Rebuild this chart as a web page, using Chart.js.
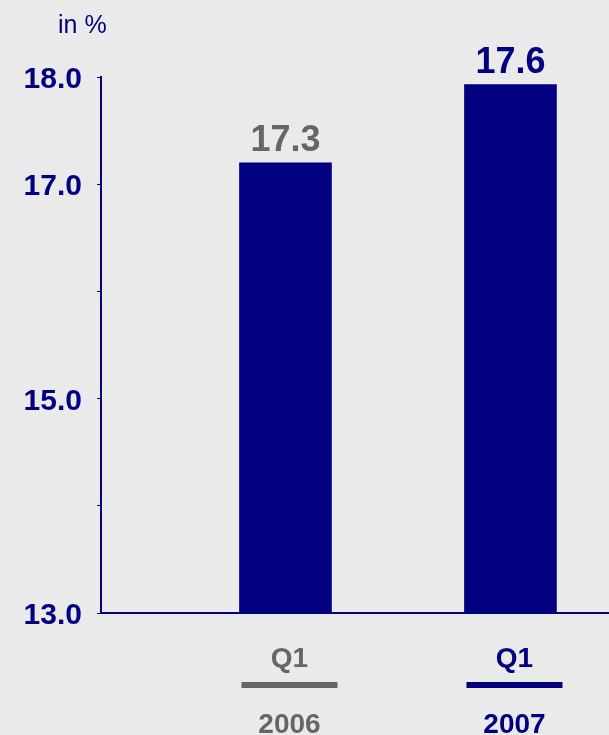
<!DOCTYPE html>
<html>
<head>
<meta charset="utf-8">
<script src="https://cdn.jsdelivr.net/npm/chart.js@4"></script>
<style>
  html, body { margin: 0; padding: 0; background: #eaeaea; overflow: hidden; }
  #wrap { width: 609px; height: 735px; }
</style>
</head>
<body>
<div id="wrap"><canvas id="ratioChart"></canvas></div>
<script>
var quarters = ['Q1', 'Q1'];
var years = ['2006', '2007'];
var values = [17.2, 17.93];
var valueLabels = ['17.3', '17.6'];
var yTicks = [13, 15, 17, 18];

var navy = '#000080';
var catColors = ['#666666', navy];

// value labels above bars, category labels under axis, "in %" unit
var annotate = {
    id: 'annotate',
    afterDraw: function (chart) {
        var ctx = chart.ctx;
        var xs = chart.scales.x;
        var meta = chart.getDatasetMeta(0);
        ctx.save();
        ctx.textAlign = 'center';
        meta.data.forEach(function (bar, i) {
            ctx.fillStyle = catColors[i];
            ctx.font = 'bold 36px Arial, "Liberation Sans", sans-serif';
            ctx.textBaseline = 'alphabetic';
            ctx.fillText(valueLabels[i], bar.x, bar.y - 12);

            var cx = xs.getPixelForValue(i + 1) + 4;
            ctx.font = 'bold 28px Arial, "Liberation Sans", sans-serif';
            ctx.fillText(quarters[i], cx, 667);
            ctx.fillText(years[i], cx, 733);
            ctx.fillRect(cx - 48, 682, 96, 6);
        });
        ctx.fillStyle = navy;
        ctx.textAlign = 'left';
        ctx.font = '25px Arial, "Liberation Sans", sans-serif';
        ctx.fillText('in %', 58, 33);
        ctx.restore();
    }
};

var ctx = document.getElementById('ratioChart').getContext('2d');
var ratioChart = new Chart(ctx, {
    type: 'bar',
    data: {
        datasets: [{
            data: values.map(function (v, i) { return { x: i + 1, y: v }; }),
            backgroundColor: navy,
            barThickness: 92
        }]
    },
    options: {
        responsive: true,
        maintainAspectRatio: false,
        animation: false,
        layout: { padding: { top: 77, bottom: 122, left: 0, right: 0 } },
        plugins: {
            legend: { display: false },
            tooltip: { enabled: false }
        },
        scales: {
            x: {
                type: 'linear',
                offset: false,
                min: 0.18,
                max: 2.438,
                grid: { display: false, drawTicks: false, offset: false },
                ticks: { display: false },
                border: { display: true, color: navy, width: 2 }
            },
            y: {
                min: 13,
                max: 18,
                afterFit: function (scale) { scale.width = 101; },
                grid: { drawOnChartArea: false, drawTicks: true, tickLength: 4, color: navy },
                border: { display: true, color: navy, width: 2 },
                ticks: {
                    stepSize: 1,
                    padding: 15,
                    labelOffset: 3,
                    color: navy,
                    font: { family: 'Arial, "Liberation Sans", sans-serif', size: 30, weight: 'bold' },
                    callback: function (v) { return yTicks.indexOf(v) >= 0 ? v.toFixed(1) : ''; }
                }
            }
        }
    },
    plugins: [annotate]
});
</script>
</body>
</html>
